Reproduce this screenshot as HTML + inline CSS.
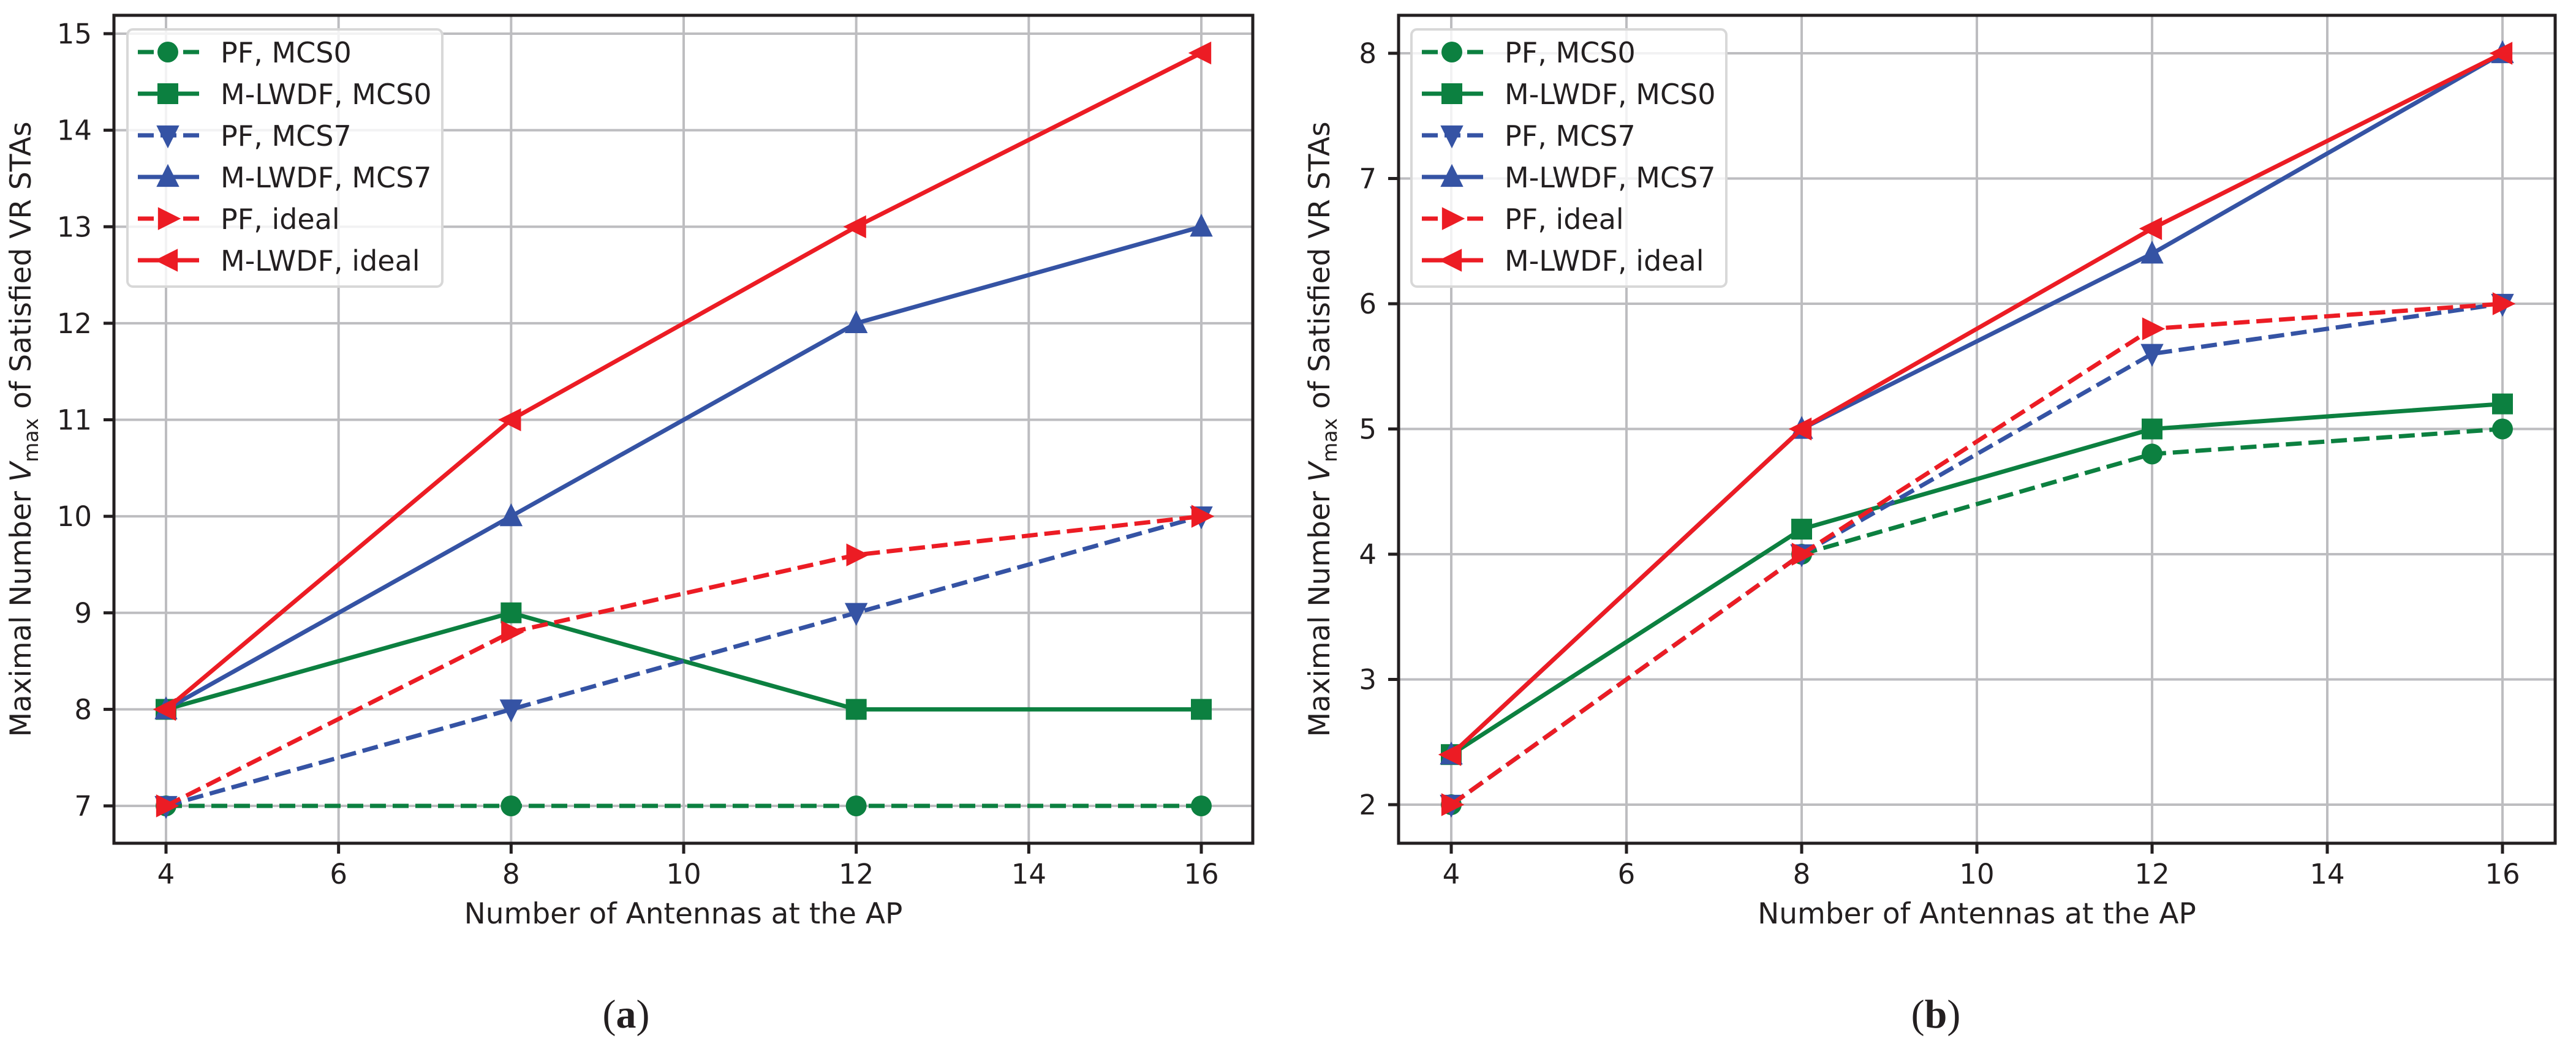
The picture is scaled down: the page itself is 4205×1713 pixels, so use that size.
<!DOCTYPE html>
<html><head><meta charset="utf-8"><style>
html,body{margin:0;padding:0;background:#fff;}
svg{display:block;}
text{font-family:"DejaVu Sans","Liberation Sans",sans-serif;fill:#231f20;}
</style></head>
<body>
<svg id="fig" width="4205" height="1713" viewBox="0 0 4205 1713" xmlns="http://www.w3.org/2000/svg"></svg>
<script>
const xCats = [4, 8, 12, 16];
const xTicks = [4, 6, 8, 10, 12, 14, 16];
const yTicksA = [7, 8, 9, 10, 11, 12, 13, 14, 15];
const yTicksB = [2, 3, 4, 5, 6, 7, 8];
const seriesNames = ["PF, MCS0", "M-LWDF, MCS0", "PF, MCS7", "M-LWDF, MCS7", "PF, ideal", "M-LWDF, ideal"];
const a_pf_mcs0 = [7, 7, 7, 7];
const a_mlwdf_mcs0 = [8, 9, 8, 8];
const a_pf_mcs7 = [7, 8, 9, 10];
const a_mlwdf_mcs7 = [8, 10, 12, 13];
const a_pf_ideal = [7, 8.8, 9.6, 10];
const a_mlwdf_ideal = [8, 11, 13, 14.8];
const b_pf_mcs0 = [2, 4, 4.8, 5];
const b_mlwdf_mcs0 = [2.4, 4.2, 5, 5.2];
const b_pf_mcs7 = [2, 4, 5.6, 6];
const b_mlwdf_mcs7 = [2.4, 5, 6.4, 8];
const b_pf_ideal = [2, 4, 5.8, 6];
const b_mlwdf_ideal = [2.4, 5, 6.6, 8];

const GREEN="#0c8040", BLUE="#3553a4", RED="#ec1c24";
const styles = [
  {c:GREEN, dash:true, m:"circle"},
  {c:GREEN, dash:false, m:"square"},
  {c:BLUE, dash:true, m:"tri_down"},
  {c:BLUE, dash:false, m:"tri_up"},
  {c:RED, dash:true, m:"tri_right"},
  {c:RED, dash:false, m:"tri_left"}
];
const NS="http://www.w3.org/2000/svg";
const svg=document.getElementById('fig');
function el(tag, attrs, parent){const e=document.createElementNS(NS,tag);for(const k in attrs)e.setAttribute(k,attrs[k]);(parent||svg).appendChild(e);return e;}

function marker(g,type,x,y,c){
  const r=17;let e;
  if(type==="circle") e=el('circle',{cx:x,cy:y,r:r,fill:c},g);
  else if(type==="square") e=el('rect',{x:x-r,y:y-r,width:2*r,height:2*r,fill:c},g);
  else {
    let p;
    if(type==="tri_up") p=[[x,y-r*1.25],[x-r*1.1,y+r*0.95],[x+r*1.1,y+r*0.95]];
    if(type==="tri_down") p=[[x,y+r*1.25],[x-r*1.1,y-r*0.95],[x+r*1.1,y-r*0.95]];
    if(type==="tri_right") p=[[x+r*1.25,y],[x-r*0.95,y-r*1.1],[x-r*0.95,y+r*1.1]];
    if(type==="tri_left") p=[[x-r*1.25,y],[x+r*0.95,y-r*1.1],[x+r*0.95,y+r*1.1]];
    e=el('polygon',{points:p.map(q=>q.join(',')).join(' '),fill:c},g);
  }
  
  
}

function panel(cfg){
  const g=el('g',{});
  
  
  const L=cfg.left,R=cfg.right,T=25,B=1377;
  const sx=v=>cfg.x4+(v-4)*(cfg.x16-cfg.x4)/12;
  const sy=v=>cfg.yTop+(cfg.yTopVal-v)*(cfg.yBot-cfg.yTop)/(cfg.yTopVal-cfg.yBotVal);
  // grid
  xTicks.forEach(t=>{const l=el('line',{x1:sx(t),x2:sx(t),y1:T,y2:B,stroke:"#bdbdc0","stroke-width":4},g);});
  cfg.yTicks.forEach(t=>{const l=el('line',{x1:L,x2:R,y1:sy(t),y2:sy(t),stroke:"#bdbdc0","stroke-width":4},g);});
  // series
  cfg.series.forEach((vals,i)=>{
    const s=styles[i];
    const sg=el('g',{},g);
    
    
    const pts=vals.map((v,j)=>sx(xCats[j])+','+sy(v)).join(' ');
    const pl=el('polyline',{points:pts,fill:"none",stroke:s.c,"stroke-width":7,"stroke-dasharray":s.dash?"26 11":"none","stroke-linejoin":"round"},sg);
    
    
    vals.forEach((v,j)=>marker(sg,s.m,sx(xCats[j]),sy(v),s.c));
  });
  // frame
  const fr=el('rect',{x:L,y:T,width:R-L,height:B-T,fill:"none",stroke:"#231f20","stroke-width":5},g);
  
  // ticks
  xTicks.forEach(t=>{
    el('line',{x1:sx(t),x2:sx(t),y1:B,y2:B+17,stroke:"#231f20","stroke-width":5},g);
    const tx=el('text',{x:sx(t),y:1443,"font-size":45,"text-anchor":"middle"},g);tx.textContent=t;
    
  });
  cfg.yTicks.forEach(t=>{
    el('line',{x1:L-17,x2:L,y1:sy(t),y2:sy(t),stroke:"#231f20","stroke-width":5},g);
    const tx=el('text',{x:L-36,y:sy(t)+16,"font-size":45,"text-anchor":"end"},g);tx.textContent=t;
    
  });
  // axis titles
  const xt=el('text',{x:(L+R)/2,y:1508,"font-size":47,"text-anchor":"middle"},g);
  xt.textContent="Number of Antennas at the AP";
  
  const yt=el('text',{x:0,y:0,"font-size":47,"text-anchor":"middle",transform:`translate(${cfg.ylabX},701) rotate(-90)`},g);
  
  yt.innerHTML='Maximal Number <tspan font-style="italic">V</tspan><tspan font-size="33" dy="12">max</tspan><tspan dy="-12"> of Satisfied VR STAs</tspan>';
  // legend
  const lg=el('g',{},g);
  const lx=cfg.legX;
  el('rect',{x:lx,y:48,width:514,height:420,rx:9,fill:"#fff","fill-opacity":0.8,stroke:"#d8d8d8","stroke-width":4},lg);
  seriesNames.forEach((n,i)=>{
    const s=styles[i];const y=85+i*68;
    const eg=el('g',{},lg);
    el('line',{x1:lx+17,x2:lx+117,y1:y,y2:y,stroke:s.c,"stroke-width":7,"stroke-dasharray":s.dash?"26 11":"none"},eg);
    marker(eg,s.m,lx+66,y,s.c);
    const t=el('text',{x:lx+152,y:y+17,"font-size":46},eg);t.textContent=n;
  });
  // caption
  const cap=el('text',{x:cfg.capX,y:1678,"font-size":66,"text-anchor":"middle",style:'font-family:"Liberation Serif",serif'},g);
  cap.innerHTML='(<tspan font-weight="bold">'+cfg.cap+'</tspan>)';
  
}

panel({name:'panel-a',left:186,right:2045,x4:271,x16:1961,yTop:55,yTopVal:15,yBot:1316,yBotVal:7,yTicks:yTicksA,
  series:[a_pf_mcs0,a_mlwdf_mcs0,a_pf_mcs7,a_mlwdf_mcs7,a_pf_ideal,a_mlwdf_ideal],ylabX:50,legX:208,capX:1022,cap:'a'});
panel({name:'panel-b',left:2283,right:4171,x4:2369,x16:4085,yTop:87,yTopVal:8,yBot:1314,yBotVal:2,yTicks:yTicksB,
  series:[b_pf_mcs0,b_mlwdf_mcs0,b_pf_mcs7,b_mlwdf_mcs7,b_pf_ideal,b_mlwdf_ideal],ylabX:2170,legX:2304,capX:3160,cap:'b'});
</script>
</body></html>
